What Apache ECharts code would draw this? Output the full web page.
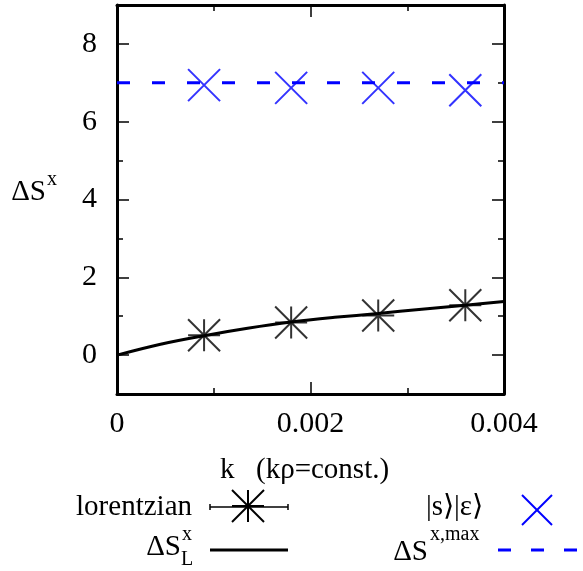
<!DOCTYPE html>
<html>
<head>
<meta charset="utf-8">
<script src="https://cdn.jsdelivr.net/npm/echarts@6/dist/echarts.min.js"></script>
<style>
  html, body { margin: 0; padding: 0; background: #fff; }
  #chart { width: 583px; height: 571px; }
</style>
</head>
<body>
<div id="chart"></div>
<script>
// wave-number grid of the fitted points
const kValues = [0.0009, 0.0018, 0.0027, 0.0036];
// lorentzian fit results
const lorentzianValues = [0.51, 0.84, 1.02, 1.28];
// |s>|e> state results
const seValues = [6.94, 6.87, 6.87, 6.81];
// analytic lorentzian curve, sampled
const curveK = [0, 0.00045, 0.0009, 0.00135, 0.0018, 0.00225, 0.0027, 0.00315, 0.0036, 0.004];
const curveValues = [0, 0.28, 0.50, 0.69, 0.85, 0.97, 1.07, 1.18, 1.28, 1.38];
// upper bound
const maxK = [0, 0.004];
const maxValues = [7, 7];
// axis ticks
const xMajorTicks = [0, 0.002, 0.004];
const xMinorTicks = [0.001, 0.003];
const yMajorTicks = [0, 2, 4, 6, 8];
const yMinorTicks = [-1, 1, 3, 5, 7, 9];

const FONT = '"Liberation Serif", "Times New Roman", serif';
const BLUE = '#0000ff';
const STAR = 'path://M0 0L32 32M32 0L0 32M16 0L16 32M0 16L32 16';
const CROSS = 'path://M0 0L32 32M32 0L0 32';

const pairs = (xs, ys) => xs.map((x, i) => [x, ys[i]]);

function xAxisDef(position, ticks, len, withLine, withLabels) {
  return {
    type: 'value', position, min: 0, max: 0.004,
    axisLine: { show: withLine, onZero: false, lineStyle: { color: '#000', width: 3 } },
    axisTick: { show: true, inside: true, length: len, customValues: ticks,
                lineStyle: { color: '#000', width: 1.5 } },
    axisLabel: { show: withLabels, customValues: ticks, margin: 15,
                 fontFamily: FONT, fontSize: 30, color: '#000',
                 formatter: v => String(v) },
    splitLine: { show: false }
  };
}
function yAxisDef(position, ticks, len, withLine, withLabels) {
  return {
    type: 'value', position, min: -1, max: 9,
    axisLine: { show: withLine, onZero: false, lineStyle: { color: '#000', width: 3 } },
    axisTick: { show: true, inside: true, length: len, customValues: ticks,
                lineStyle: { color: '#000', width: 1.5 } },
    axisLabel: { show: withLabels, customValues: ticks, margin: 20,
                 fontFamily: FONT, fontSize: 30, color: '#000',
                 formatter: v => String(v) },
    splitLine: { show: false }
  };
}

function txt(text, x, y, size, align, color) {
  return { type: 'text', x, y, silent: true,
    style: { text, fontFamily: FONT, fontSize: size, fill: color || '#000',
             align: align || 'left', verticalAlign: 'middle' } };
}
function seg(x1, y1, x2, y2, color, w, dash) {
  return { type: 'line', silent: true, shape: { x1, y1, x2, y2 },
    style: { stroke: color, lineWidth: w, lineDash: dash || null } };
}
function starKey(cx, cy, r) {
  return [seg(cx - r, cy - r, cx + r, cy + r, '#000', 2), seg(cx + r, cy - r, cx - r, cy + r, '#000', 2),
          seg(cx, cy - r, cx, cy + r, '#000', 2), seg(cx - r, cy, cx + r, cy, '#000', 2)];
}

const chart = echarts.init(document.getElementById('chart'), null, { renderer: 'canvas' });
chart.setOption({
  backgroundColor: '#fff',
  animation: false,
  grid: { left: 117, right: 79, top: 5, bottom: 177 },
  xAxis: [
    xAxisDef('bottom', xMajorTicks, 12, true, true),
    xAxisDef('bottom', xMinorTicks, 6, false, false),
    xAxisDef('top', xMajorTicks, 12, true, false),
    xAxisDef('top', xMinorTicks, 6, false, false)
  ],
  yAxis: [
    yAxisDef('left', yMajorTicks, 12, true, true),
    yAxisDef('left', yMinorTicks, 6, false, false),
    yAxisDef('right', yMajorTicks, 12, true, false),
    yAxisDef('right', yMinorTicks, 6, false, false)
  ],
  series: [
    { name: 'ΔS^x_L', type: 'line', data: pairs(curveK, curveValues), smooth: 0.35,
      showSymbol: false, lineStyle: { color: '#000', width: 3 }, z: 3 },
    { name: 'ΔS^x,max', type: 'line', data: pairs(maxK, maxValues), showSymbol: false,
      lineStyle: { color: BLUE, width: 3, type: [13, 22] }, z: 3 },
    { name: 'lorentzian', type: 'scatter', data: pairs(kValues, lorentzianValues),
      symbol: STAR, symbolSize: 32,
      itemStyle: { color: 'transparent', borderColor: '#000', borderWidth: 2 }, z: 4 },
    { name: '|s⟩|ε⟩', type: 'scatter', data: pairs(kValues, seValues),
      symbol: CROSS, symbolSize: 32,
      itemStyle: { color: 'transparent', borderColor: BLUE, borderWidth: 2 }, z: 4 }
  ],
  graphic: [
    // y-axis title
    txt('ΔS', 46, 192, 29, 'right'),
    txt('x', 47, 180, 20, 'left'),
    // x-axis title
    txt('k', 220, 470, 29, 'left'),
    txt('(kρ=const.)', 256, 470, 29, 'left'),
    // key: lorentzian
    txt('lorentzian', 192, 507, 29, 'right'),
    seg(210, 507, 288, 507, '#000', 1.5),
    seg(210, 504, 210, 510, '#000', 1.5),
    seg(288, 504, 288, 510, '#000', 1.5),
    ...starKey(248, 506, 16),
    // key: |s>|e>
    txt('|s⟩|ε⟩', 483, 507, 29, 'right'),
    seg(522, 495, 552, 525, BLUE, 2),
    seg(552, 495, 522, 525, BLUE, 2),
    // key: lorentzian curve
    txt('ΔS', 181, 547, 29, 'right'),
    txt('x', 182, 535, 20, 'left'),
    txt('L', 181, 560, 20, 'left'),
    seg(210, 550, 288, 550, '#000', 3),
    // key: upper bound
    txt('ΔS', 428, 552, 29, 'right'),
    txt('x,max', 430, 535, 20, 'left'),
    seg(498, 550, 583, 550, BLUE, 3, [13, 20])
  ]
});
</script>
</body>
</html>
